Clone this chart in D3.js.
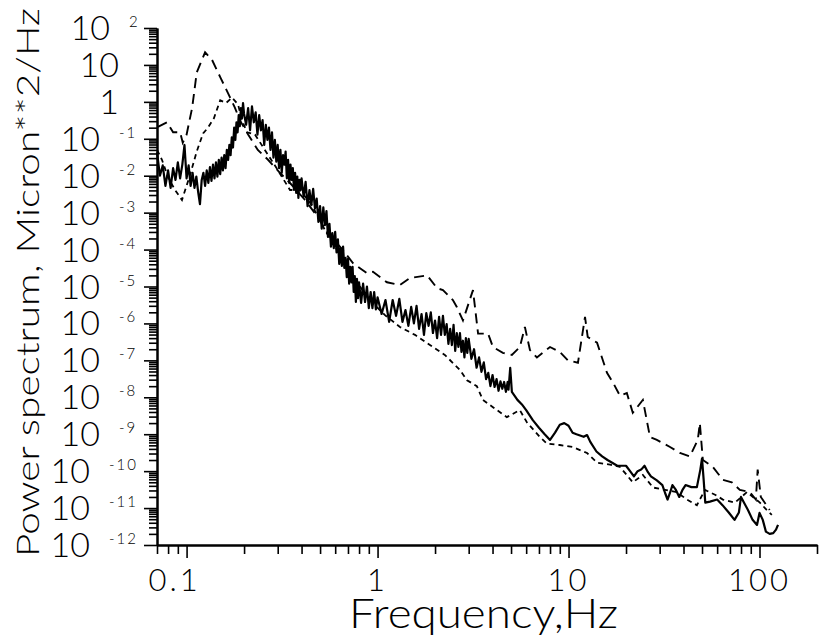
<!DOCTYPE html>
<html>
<head>
<meta charset="utf-8">
<script src="https://cdn.jsdelivr.net/npm/d3@7"></script>
<style>
  body { margin: 0; background: #fff; }
  svg { display: block; }
  text { font-family: Lato, Roboto, "DejaVu Sans", sans-serif; font-weight: 300; fill: #000; }
</style>
</head>
<body>
<svg id="chart" width="827" height="643"></svg>
<script>
// [frequency Hz, power micron^2/Hz]
const solidSpectrum = [
  [0.07,0.043],[0.0725,0.010],[0.075,0.019],[0.0775,5.3e-3],[0.08,0.014],[0.0825,4.7e-3],[0.085,0.016],
  [0.0875,7.7e-3],[0.09,0.023],[0.0925,8.5e-3],[0.095,0.020],[0.0975,0.068],[0.1,8.5e-3],[0.1025,0.019],
  [0.105,5.3e-3],[0.1075,0.012],[0.11,4.7e-3],[0.1125,9.5e-3],[0.115,3.6e-3],[0.1175,1.7e-3],[0.12,7.7e-3],
  [0.1225,0.012],[0.125,5.3e-3],[0.1275,0.014],[0.13,6.4e-3],[0.1325,0.017],[0.135,7.2e-3],[0.1375,0.020],
  [0.14,8.5e-3],[0.1425,0.023],[0.145,9.5e-3],[0.1475,0.027],[0.15,0.011],[0.1525,0.031],[0.155,0.014],
  [0.1575,0.036],[0.16,0.016],[0.1625,0.050],[0.165,0.027],[0.1675,0.068],[0.17,0.036],[0.1725,0.11],
  [0.175,0.058],[0.1775,0.20],[0.18,0.093],[0.1825,0.28],[0.185,0.15],[0.1875,0.44],[0.19,0.22],
  [0.1925,0.68],[0.195,0.36],[0.1975,0.93],[0.2,0.47],
  [0.205,0.24],[0.21,0.68],[0.215,0.17],[0.22,0.76],[0.225,0.28],[0.23,0.52],[0.235,0.13],[0.24,0.44],
  [0.245,0.17],[0.25,0.32],[0.255,0.068],[0.26,0.24],[0.265,0.093],[0.27,0.20],[0.275,0.050],[0.28,0.15],
  [0.285,0.031],[0.29,0.093],[0.295,0.024],[0.30,0.068],[0.305,0.016],[0.31,0.050],[0.315,0.012],[0.32,0.036],
  [0.325,0.020],[0.33,0.045],[0.335,8.5e-3],[0.34,0.027],[0.345,6.4e-3],[0.35,0.020],[0.355,7.7e-3],
  [0.36,0.016],[0.365,4.1e-3],[0.37,0.012],[0.375,3.4e-3],[0.38,9.5e-3],[0.385,2.5e-3],[0.39,7.7e-3],
  [0.395,4.1e-3],[0.40,8.5e-3],
  [0.41,2.7e-3],[0.42,6.8e-3],[0.43,1.5e-3],[0.44,4.1e-3],[0.45,1.6e-3],[0.46,4.4e-3],[0.47,1.3e-3],
  [0.48,2.4e-3],[0.49,5.6e-4],[0.50,1.5e-3],[0.51,3.7e-4],[0.52,1.4e-3],[0.53,4.6e-4],[0.54,1.1e-3],
  [0.55,2.2e-4],[0.56,5.0e-4],[0.57,1.2e-4],[0.58,2.8e-4],[0.59,1.1e-4],[0.60,3.0e-4],[0.61,8.4e-5],
  [0.62,1.9e-4],[0.63,4.1e-5],[0.64,1.1e-4],[0.65,3.6e-5],[0.66,1.2e-4],[0.67,3.2e-5],[0.68,6.0e-5],
  [0.69,1.8e-5],[0.70,5.6e-5],[0.71,1.2e-5],[0.72,3.4e-5],[0.73,1.3e-5],[0.74,3.4e-5],[0.75,7.1e-6],
  [0.76,1.9e-5],[0.77,3.8e-6],[0.78,1.6e-5],[0.79,4.8e-6],[0.80,1.3e-5],[0.82,3.6e-6],[0.84,1.2e-5],
  [0.86,3.8e-6],[0.88,1.0e-5],[0.90,2.6e-6],[0.92,7.1e-6],[0.94,2.6e-6],[0.96,7.1e-6],[0.98,2.4e-6],
  [1.0,5.1e-6],
  [1.05,1.8e-6],[1.1,4.3e-6],[1.15,1.1e-6],[1.2,4.3e-6],[1.25,1.6e-6],[1.3,4.6e-6],[1.35,1.1e-6],
  [1.4,2.3e-6],[1.45,8.6e-7],[1.5,2.8e-6],[1.55,1.0e-6],[1.6,3.0e-6],[1.65,7.1e-7],[1.7,1.8e-6],
  [1.75,4.9e-7],[1.8,1.9e-6],[1.85,8.6e-7],[1.9,2.0e-6],[1.95,5.5e-7],[2.0,1.2e-6],[2.05,4.0e-7],
  [2.1,1.5e-6],[2.15,4.9e-7],[2.2,1.6e-6],[2.25,4.9e-7],[2.3,9.6e-7],[2.35,2.8e-7],[2.4,7.1e-7],
  [2.45,2.6e-7],[2.5,9.1e-7],[2.55,1.8e-7],[2.6,5.5e-7],[2.65,2.3e-7],[2.7,5.5e-7],[2.75,1.7e-7],
  [2.8,3.4e-7],[2.85,1.2e-7],[2.9,4.0e-7],[2.95,1.6e-7],[3.0,3.8e-7],
  [3.1,1.1e-7],[3.2,2.0e-7],[3.3,6.3e-8],[3.4,1.2e-7],[3.5,4.9e-8],[3.6,8.8e-8],[3.7,3.1e-8],[3.8,4.6e-8],
  [3.9,2.0e-8],[4.0,4.0e-8],[4.1,1.9e-8],[4.2,3.1e-8],[4.3,1.5e-8],[4.4,2.7e-8],[4.5,1.7e-8],[4.6,2.6e-8],
  [4.7,1.4e-8],[4.8,2.6e-8],[4.85,1.6e-8],[4.95,6.3e-8],[5.05,1.4e-8],
  [5.4,8.5e-9],[5.7,6.4e-9],[6.0,4.5e-9],[6.5,2.4e-9],[7.0,1.5e-9],[7.5,1.0e-9],[8.0,7.0e-10],[8.5,1.1e-9],
  [9.0,1.8e-9],[9.5,2.0e-9],[10,1.7e-9],[10.5,1.1e-9],[11,1.0e-9],[12,8.5e-10],[12.5,9.5e-10],[13,6.2e-10],
  [14,3.4e-10],[15,2.5e-10],[16,2.0e-10],[18,1.4e-10],[20,1.4e-10],[21,1.0e-10],[22,7.2e-11],[23,1.0e-10],
  [24,1.1e-10],[25,1.4e-10],[26,9.5e-11],[27,7.2e-11],[29,5.6e-11],[31,4.2e-11],[32,2.6e-11],[33,1.7e-11],
  [34,2.6e-11],[35,4.2e-11],[36.5,3.1e-11],[38,2.0e-11],[39.5,3.1e-11],[41,4.2e-11],[44,3.7e-11],
  [47,3.7e-11],[49,1.1e-10],[50,2.2e-10],[51,5.8e-11],[52,1.4e-11],[55,1.5e-11],[60,1.7e-11],[64,1.2e-11],
  [69,7.6e-12],[74,4.8e-12],[78,7.6e-12],[80,2.0e-11],[83,1.4e-11],[87,8.9e-12],[92,4.8e-12],[97,3.5e-12],
  [100,7.4e-12],[104,4.8e-12],[108,2.3e-12],[113,2.0e-12],[118,2.1e-12],[122,2.6e-12],[125,3.5e-12]
];

const longDashSpectrum = [
  [0.0708,0.21],[0.0789,0.28],[0.085,0.15],[0.0925,0.15],[0.0955,0.078],[0.1,0.13],[0.107,0.70],[0.113,6.2],
  [0.125,22],[0.136,13.6],[0.150,4.7],[0.165,1.7],[0.179,0.70],[0.19,0.32],[0.21,0.13],[0.236,0.05],
  [0.267,0.027],[0.308,0.012],[0.356,5.6e-3],[0.417,2.2e-3],[0.488,7.4e-4],[0.563,2.2e-4],[0.612,1.5e-4],
  [0.659,9.7e-5],[0.743,4.3e-5],[0.879,2.3e-5],[0.946,2.5e-5],[1.12,1.3e-5],[1.31,1.1e-5],[1.48,1.7e-5],
  [1.82,2.0e-5],[2.05,9.0e-6],[2.2,8.0e-6],[2.48,4.3e-6],[2.6,2.8e-6],[2.8,1.2e-6],[3.16,8.0e-6],[3.36,5.3e-7],
  [3.79,5.3e-7],[4.02,2.3e-7],[4.53,1.6e-7],[5.05,1.4e-7],[5.56,2.3e-7],[5.91,8.0e-7],[6.28,1.9e-7],
  [6.83,1.2e-7],[8.0,2.3e-7],[9.0,1.7e-7],[9.93,1.0e-7],[11.2,8.6e-8],[12.2,1.5e-6],[12.6,4.3e-7],[14.1,3.0e-7],
  [15.9,4.6e-8],[17.1,2.5e-8],[18.6,1.1e-8],[20.2,1.3e-8],[21.7,3.8e-9],[24.5,8.5e-9],[26.7,8.4e-10],
  [29,7.0e-10],[34,4.5e-10],[38.3,3.1e-10],[43.2,2.5e-10],[47.5,7.0e-10],[48.7,2.0e-9],[50.5,2.0e-10],
  [57,1.3e-10],[64.3,5.8e-11],[71.6,5.0e-11],[78.9,3.1e-11],[89,2.7e-11],[95.7,1.7e-11],[97.8,1.1e-10],
  [101.6,2.0e-11],[113,8.9e-12]
];

const shortDashSpectrum = [
  [0.07,0.050],[0.0743,0.027],[0.080,9.0e-3],[0.087,4.1e-3],[0.0946,2.2e-3],[0.104,0.010],[0.113,0.045],
  [0.122,0.14],[0.1295,0.20],[0.139,0.36],[0.150,1.1],[0.161,0.93],[0.173,1.3],[0.186,0.85],[0.195,0.32],
  [0.207,0.15],[0.228,0.13],[0.257,0.05],[0.301,0.014],[0.348,4.1e-3],[0.392,4.1e-3],[0.453,1.6e-3],
  [0.53,3.4e-4],[0.636,7.1e-5],[0.762,1.5e-5],[0.912,4.3e-6],[1.09,1.7e-6],[1.31,8.0e-7],[1.57,4.9e-7],
  [1.88,2.6e-7],[2.25,1.4e-7],[2.7,5.5e-8],[2.94,2.9e-8],[3.31,2.0e-8],[3.56,8.5e-9],[4.02,5.4e-9],
  [4.75,2.9e-9],[5.56,4.5e-9],[6.05,2.1e-9],[7.08,8.4e-10],[7.7,5.6e-10],[9.0,5.1e-10],[10.5,4.5e-10],
  [12.5,3.1e-10],[14.1,1.7e-10],[16.5,1.5e-10],[18.6,1.3e-10],[21.7,5.0e-11],[24.5,7.9e-11],[27.7,3.6e-11],
  [32,3.1e-11],[36.9,2.7e-11],[41.7,1.7e-11],[47,1.2e-11],[51.8,3.1e-11],[58.5,2.3e-11],[64.3,1.7e-11],
  [74.3,1.4e-11],[85.9,2.7e-11],[100.5,1.4e-11],[109,8.9e-12],[116,6.5e-12]
];

// axis labelling
const xTickLabels = [0.1, 1, 10, 100];
const yExponents = [2, 1, 0, -1, -2, -3, -4, -5, -6, -7, -8, -9, -10, -11, -12];

const svg = d3.select('#chart');

// plot frame (y axis at x=157, x axis at y=545)
const x = d3.scaleLog().domain([0.07, 200]).range([157, 817]);
const y = d3.scaleLog().domain([1e-12, 1e2]).range([545, 28]);

// minor tick positions, 2..9 in each decade
let xMinor = [];
[0.01, 0.1, 1, 10, 100].forEach(dec => {
    for (let m = 2; m <= 9; m++) {
        const v = +(m * dec).toPrecision(3);
        if (v >= 0.07 && v <= 200) xMinor.push(v);
    }
});
let yMinor = [];
for (let e = -12; e < 2; e++) {
    for (let m = 2; m <= 9; m++) yMinor.push(m * Math.pow(10, e));
}
const yMajor = yExponents.map(e => Math.pow(10, e));

// x axis: minor ticks, then major ticks; labels drawn separately
svg.append('g')
    .attr('transform', 'translate(0,545)')
    .call(d3.axisBottom(x).tickValues(xMinor).tickSize(9).tickSizeOuter(0).tickFormat(''));
svg.append('g')
    .attr('transform', 'translate(0,545)')
    .call(d3.axisBottom(x).tickValues(xTickLabels).tickSize(13).tickSizeOuter(0).tickFormat(''));

svg.append('g')
    .attr('transform', 'translate(157,0)')
    .call(d3.axisLeft(y).tickValues(yMinor).tickSize(8).tickSizeOuter(0).tickFormat(''));
svg.append('g')
    .attr('transform', 'translate(157,0)')
    .call(d3.axisLeft(y).tickValues(yMajor).tickSize(13).tickSizeOuter(0).tickFormat(''));

svg.selectAll('.domain').attr('stroke', '#000').attr('stroke-width', 2);
svg.selectAll('.tick line').attr('stroke', '#000').attr('stroke-width', 1.6);

// x tick labels
svg.append('g').selectAll('text')
    .data(xTickLabels)
    .join('text')
    .attr('x', d => x(d) + (d < 1 ? -12 : 0))
    .attr('y', 591)
    .attr('text-anchor', 'middle')
    .attr('font-size', 31)
    .attr('letter-spacing', 3)
    .text(d => String(d));

// y tick labels: 10 with a raised exponent
const yLab = svg.append('g');
yExponents.forEach(e => {
    const ty = y(Math.pow(10, e));
    if (e === 0 || e === 1) {
        yLab.append('text')
            .attr('x', 119).attr('y', ty + 12)
            .attr('text-anchor', 'end')
            .attr('font-size', 34)
            .text(e === 0 ? '1' : '10');
        return;
    }
    const expStr = String(e);
    const startX = 140 - 10 * expStr.length - 1;
    yLab.append('text')
        .attr('x', startX - 19).attr('y', ty + 12)
        .attr('text-anchor', 'end')
        .attr('font-size', 34)
        .text('10');
    yLab.append('text')
        .attr('x', startX).attr('y', ty - 1)
        .attr('font-size', 15)
        .attr('font-weight', 400)
        .attr('letter-spacing', 2)
        .text(expStr);
});

// the three spectra
const line = d3.line()
    .x(d => x(d[0]))
    .y(d => y(d[1]));

svg.append('path')
    .datum(shortDashSpectrum)
    .attr('d', line)
    .attr('fill', 'none')
    .attr('stroke', '#000')
    .attr('stroke-width', 1.8)
    .attr('stroke-dasharray', '5,4');

svg.append('path')
    .datum(longDashSpectrum)
    .attr('d', line)
    .attr('fill', 'none')
    .attr('stroke', '#000')
    .attr('stroke-width', 1.9)
    .attr('stroke-dasharray', '10,6');

svg.append('path')
    .datum(solidSpectrum)
    .attr('d', line)
    .attr('fill', 'none')
    .attr('stroke', '#000')
    .attr('stroke-width', 2.2)
    .attr('stroke-linejoin', 'round');

// axis titles
svg.append('text')
    .attr('x', 349).attr('y', 628)
    .attr('font-size', 41)
    .attr('textLength', 269)
    .attr('lengthAdjust', 'spacingAndGlyphs')
    .text('Frequency,Hz');

svg.append('text')
    .attr('transform', 'translate(39,557) rotate(-90)')
    .attr('font-size', 31)
    .attr('textLength', 549)
    .attr('lengthAdjust', 'spacingAndGlyphs')
    .text('Power spectrum, Micron**2/Hz');
</script>
</body>
</html>
